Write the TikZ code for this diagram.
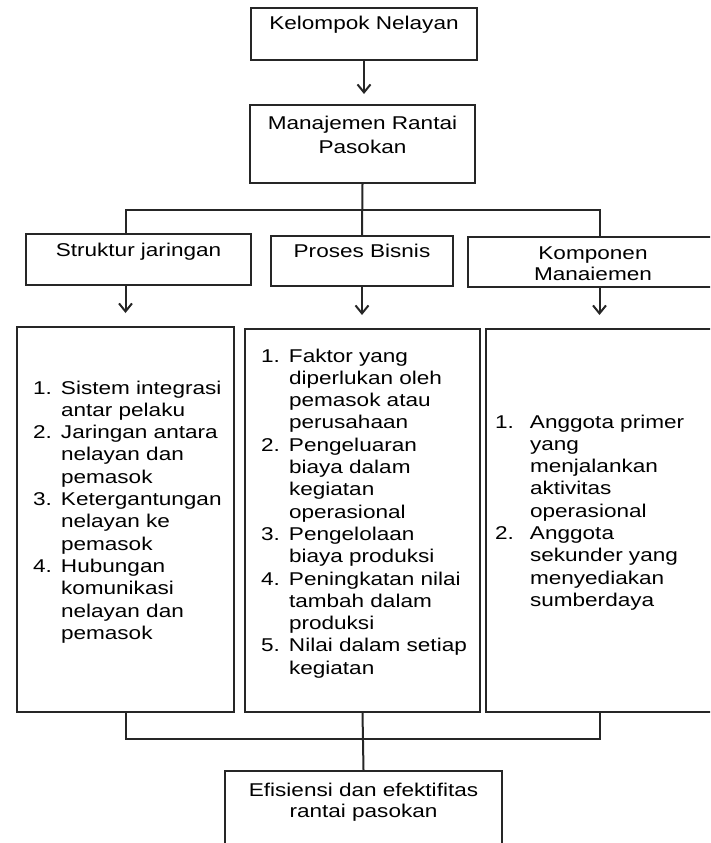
\documentclass[tikz,border=0pt]{standalone}
\usepackage{fontspec}
\setmainfont{Liberation Sans}[FakeStretch=1.22]
\usetikzlibrary{arrows.meta}

\tikzset{
    box/.style={draw=black!85, line width=2pt, anchor=north west, inner sep=0pt, align=center},
    listbox/.style={draw=black!85, line width=2pt, anchor=north west, inner ysep=0pt},
    conn/.style={draw=black!85, line width=2pt},
}

\begin{document}
\begin{tikzpicture}[x=1pt, y=1pt, font=\fontsize{18.5}{22.3}\selectfont,
        >={Straight Barb[length=8pt,width=13pt]}]
        \useasboundingbox (0, 0) rectangle (710, -843);
        \clip (0, 0) rectangle (710, -843);

        \node[box, text width=226pt, text height=22pt, text depth=30pt] at (250, -7)(kelompok){Kelompok Nelayan};
        \node[box, text width=225pt, text height=24pt, text depth=54pt] at (249, -104)(manajemen){Manajemen Rantai\\[1.7pt] Pasokan};
        \node[box, text width=225pt, text height=22pt, text depth=29pt] at (25, -233)(struktur){Struktur jaringan};
        \node[box, text width=182pt, text height=21pt, text depth=29pt] at (270, -235)(proses){Proses Bisnis};
        \node[box, text width=250pt, text height=22pt, text depth=28pt] at (467, -236)(komponen){Komponen\\[-1pt] Manaiemen};

        \node[listbox, inner xsep=16pt, text width=185pt, text height=67pt, text depth=318pt] at (16, -326)(dstruktur){%
            \begin{tabular}[t]{@{}p{28pt}@{}l@{}}
                1. & Sistem integrasi\\ & antar pelaku\\
                2. & Jaringan antara\\ & nelayan dan\\ & pemasok\\
                3. & Ketergantungan\\ & nelayan ke\\ & pemasok\\
                4. & Hubungan\\ & komunikasi\\ & nelayan dan\\ & pemasok
            \end{tabular}};
        \node[listbox, inner xsep=16pt, text width=203pt, text height=33pt, text depth=350pt] at (244, -328)(dproses){%
            \begin{tabular}[t]{@{}p{28pt}@{}l@{}}
                1. & Faktor yang\\ & diperlukan oleh\\ & pemasok atau\\ & perusahaan\\
                2. & Pengeluaran\\ & biaya dalam\\ & kegiatan\\ & operasional\\
                3. & Pengelolaan\\ & biaya produksi\\
                4. & Peningkatan nilai\\ & tambah dalam\\ & produksi\\
                5. & Nilai dalam setiap\\ & kegiatan
            \end{tabular}};
        \node[listbox, inner xsep=9pt, text width=209pt, text height=99pt, text depth=284pt] at (485, -328)(dkomponen){%
            \begin{tabular}[t]{@{}p{35pt}@{}l@{}}
                1. & Anggota primer\\ & yang\\ & menjalankan\\ & aktivitas\\ & operasional\\
                2. & Anggota\\ & sekunder yang\\ & menyediakan\\ & sumberdaya
            \end{tabular}};

        \node[box, text width=277pt, text height=25pt, text depth=75pt] at (224, -770)(efisiensi){Efisiensi dan efektifitas\\[-0.6pt] rantai pasokan};

        \coordinate (bustop) at (362, -210);
        \coordinate (busbot) at (362, -739);

        \draw[conn, ->, shorten >=10pt] (kelompok.south) -- (kelompok.south |- manajemen.north);
        \draw[conn] (manajemen.south) -- (proses.north);
        \draw[conn] (dstruktur.north |- struktur.north) |- (bustop) -| (dkomponen.north |- komponen.north);

        \draw[conn, ->, shorten >=13pt] (struktur.south -| dstruktur.north) -- (dstruktur.north);
        \draw[conn, ->, shorten >=13pt] (proses.south) -- (proses.south |- dproses.north);
        \draw[conn, ->, shorten >=13pt] (komponen.south -| dkomponen.north) -- (dkomponen.north);

        \draw[conn] (dstruktur.south) |- (busbot) -| (dkomponen.south);
        \draw[conn] (dproses.south) -- (efisiensi.north);
    \end{tikzpicture}
\end{document}
